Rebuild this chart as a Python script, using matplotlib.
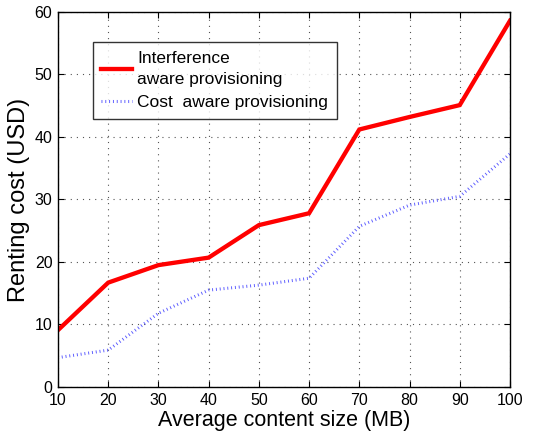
import matplotlib
matplotlib.use("Agg")
import matplotlib.pyplot as plt

plt.rcParams['font.family'] = ['Liberation Sans', 'DejaVu Sans']

content_size = [10, 20, 30, 40, 50, 60, 70, 80, 90, 100]
interference_cost = [9.1, 16.7, 19.5, 20.7, 25.9, 27.8, 41.2, 43.2, 45.1, 58.6]
cost_aware_cost = [4.7, 5.9, 11.8, 15.5, 16.3, 17.4, 25.7, 29.1, 30.5, 37.3]
x_ticks = [10, 20, 30, 40, 50, 60, 70, 80, 90, 100]
y_ticks = [0, 10, 20, 30, 40, 50, 60]

fig = plt.figure(figsize=(5.34, 4.34), dpi=100)
ax = fig.add_axes([0.1086, 0.1083, 0.8464, 0.8641])

ax.plot(content_size, interference_cost, color='#ff0000', linewidth=3.1,
        solid_joinstyle='miter', label='Interference\naware provisioning')
ax.plot(content_size, cost_aware_cost, color='#5a5aff', linewidth=2.2,
        linestyle=(0, (0.3, 0.95)), dash_capstyle='butt',
        label='Cost  aware provisioning')

ax.set_xlim(10, 100)
ax.set_ylim(0, 60)
ax.set_xticks(x_ticks)
ax.set_yticks(y_ticks)
ax.tick_params(direction='in', top=True, right=True, labelsize=11.5, length=4,
               width=0.8, pad=4)
ax.grid(True, linestyle=(0, (1, 4.5)), color='#555555', linewidth=0.8)
for s in ax.spines.values():
    s.set_linewidth(1.0)

ax.set_xlabel('Average content size (MB)', fontsize=15.5, labelpad=2)
ax.set_ylabel('Renting cost (USD)', fontsize=17, labelpad=3)

leg = ax.legend(loc='upper left', bbox_to_anchor=(0.077, 0.92), fontsize=12.5,
                frameon=True, fancybox=False, edgecolor='black',
                handlelength=1.75, handletextpad=0.3, borderpad=0.5,
                labelspacing=0.45, borderaxespad=0)
for t in leg.get_texts():
    t.set_linespacing(1.55)
leg.get_frame().set_linewidth(1.0)

fig.savefig('out.png', dpi=100)
